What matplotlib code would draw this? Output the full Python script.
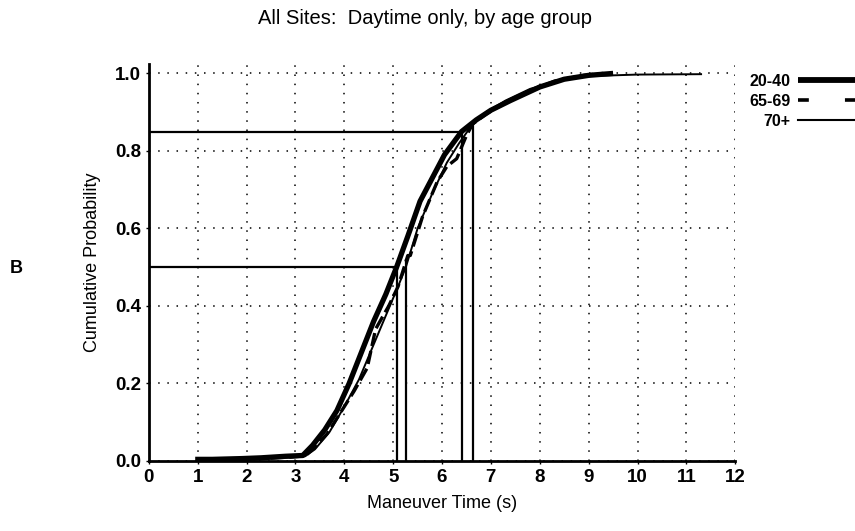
import matplotlib
matplotlib.use("Agg")
import matplotlib.pyplot as plt
from matplotlib.lines import Line2D

plt.rcParams['font.family'] = ['Liberation Sans', 'DejaVu Sans']

# cumulative distributions
groups = ["20-40", "65-69", "70+"]

x_2040 = [0.95, 1.3, 1.9, 2.3, 2.8, 3.15, 3.35, 3.6, 3.85, 4.1, 4.35, 4.6, 4.85, 5.07,
          5.3, 5.55, 5.8, 6.05, 6.4, 6.7, 7.0, 7.4, 8.0, 8.5, 9.0, 9.5]
y_2040 = [0.004, 0.004, 0.006, 0.008, 0.012, 0.014, 0.04, 0.08, 0.13, 0.2, 0.28, 0.36, 0.43, 0.5,
          0.58, 0.67, 0.73, 0.79, 0.85, 0.88, 0.905, 0.93, 0.965, 0.985, 0.995, 1.0]

x_6569 = [1.0, 1.2, 2.0, 2.3, 2.9, 3.2, 3.4, 3.65, 3.9, 4.2, 4.47, 4.64, 4.91, 5.1, 5.3, 5.35,
          5.6, 5.9, 6.1, 6.3, 6.5, 6.63, 6.9, 7.3, 7.8, 8.3, 8.9, 9.3]
y_6569 = [0.003, 0.003, 0.005, 0.006, 0.01, 0.013, 0.035, 0.07, 0.12, 0.18, 0.24, 0.34, 0.40, 0.45, 0.53, 0.53,
          0.63, 0.72, 0.76, 0.78, 0.84, 0.87, 0.895, 0.925, 0.955, 0.98, 0.995, 1.0]

x_70 = [1.0, 1.3, 2.0, 2.2, 2.9, 3.2, 3.4, 3.7, 4.0, 4.3, 4.6, 4.9, 5.1, 5.26, 5.5, 5.8,
        6.1, 6.35, 6.63, 6.9, 7.3, 7.8, 8.4, 9.0, 10.0, 11.3]
y_70 = [0.002, 0.002, 0.004, 0.005, 0.009, 0.012, 0.03, 0.075, 0.14, 0.21, 0.3, 0.39, 0.45, 0.5, 0.6, 0.69,
        0.77, 0.82, 0.87, 0.9, 0.93, 0.96, 0.982, 0.993, 0.997, 0.998]

# 50th and 85th percentile markers
p50_x = [5.07, 5.26]
p50_top = [0.5, 0.52]
p85_x = [6.40, 6.63]
p85_top = [0.85, 0.87]

xticks = list(range(0, 13))
yticks = [0.0, 0.2, 0.4, 0.6, 0.8, 1.0]

fig = plt.figure(figsize=(8.55, 5.31), dpi=100)
ax = fig.add_axes([0.174, 0.132, 0.686, 0.748])

ax.plot(x_2040, y_2040, color='black', lw=3.8, solid_capstyle='butt', zorder=4)
ax.plot(x_6569, y_6569, color='black', lw=2.4, ls=(0, (4, 1.5)), zorder=5)
ax.plot(x_70, y_70, color='black', lw=1.4, zorder=6)

ax.hlines([0.5, 0.85], 0, [p50_x[0], p85_x[0]], color='black', lw=1.6, zorder=3)
ax.vlines(p50_x, 0, p50_top, color='black', lw=1.6, zorder=3)
ax.vlines(p85_x, 0, p85_top, color='black', lw=1.6, zorder=3)

ax.set_xlim(0, 12)
ax.set_ylim(0, 1.025)
ax.set_xticks(xticks)
ax.set_yticks(yticks)
ax.set_yticklabels([f"{v:.1f}" for v in yticks])
ax.grid(True, color='black', ls=(0, (1, 5)), lw=1.1)
ax.set_axisbelow(True)
for s in ['top', 'right']:
    ax.spines[s].set_visible(False)
ax.spines['left'].set_linewidth(2)
ax.spines['bottom'].set_linewidth(2)
ax.tick_params(length=2, width=1, labelsize=13.5)
for lab in ax.get_xticklabels() + ax.get_yticklabels():
    lab.set_fontweight('bold')

ax.set_xlabel("Maneuver Time (s)", fontsize=13, labelpad=7)
ax.set_ylabel("Cumulative Probability", fontsize=13, labelpad=10)
fig.text(0.497, 0.966, "All Sites:  Daytime only, by age group", fontsize=14.5,
         ha='center', va='center')

fig.text(0.019, 0.495, "B", fontsize=13, fontweight='bold', ha='center', va='center')

handles = [Line2D([], [], color='black', lw=4.2, solid_capstyle='butt'),
           Line2D([], [], color='black', lw=2.6, ls=(0, (3, 10))),
           Line2D([], [], color='black', lw=1.5)]
leg = fig.legend(handles, groups, loc='upper right', bbox_to_anchor=(878 / 855, 1 - 74 / 531),
                 bbox_transform=fig.transFigure, frameon=False, markerfirst=False,
                 handlelength=5.0, handletextpad=0.5, labelspacing=0.3, fontsize=11.5,
                 borderpad=0, borderaxespad=0)
for t in leg.get_texts():
    t.set_fontweight('bold')

fig.savefig("out.png", dpi=100)
